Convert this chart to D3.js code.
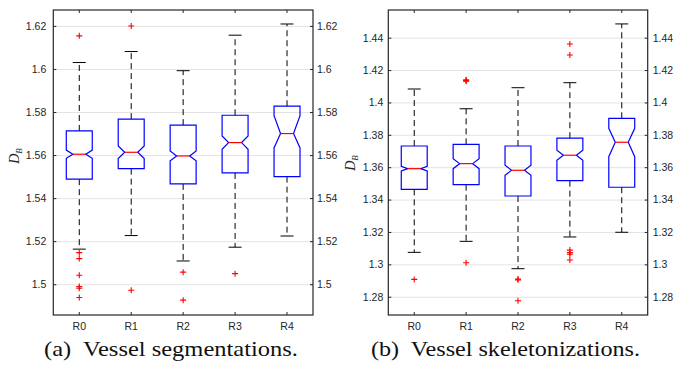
<!DOCTYPE html>
<meta charset="utf-8">
<html>
<head>
    <title>Vessel boxplots</title>
    <style>
        body { margin: 0; background: #fff; }
        .tick text { font-family: "Liberation Sans", Arial, sans-serif; font-size: 10.5px; fill: #262626; }
        .caption { font-family: "Liberation Serif", "Times New Roman", serif; font-size: 22px; fill: #111; white-space: pre; }
        .ylab { font-family: "Liberation Serif", serif; font-style: italic; fill: #262626; }
    </style>
    <script src="https://d3js.org/d3.v7.min.js"></script>
</head>
<body>
    <div id="chart"></div>
    <script>
        // categories shared by both panels
        var categories = ["R0", "R1", "R2", "R3", "R4"];

        // (a) vessel segmentations
        var segTicks = [1.5, 1.52, 1.54, 1.56, 1.58, 1.6, 1.62];
        var segQ1 = [1.5488, 1.5537, 1.5466, 1.5517, 1.5500];
        var segMedian = [1.5604, 1.5613, 1.5596, 1.5658, 1.5700];
        var segQ3 = [1.5712, 1.5767, 1.5739, 1.5785, 1.5827];
        var segNotchLo = [1.5585, 1.5584, 1.5573, 1.5627, 1.5633];
        var segNotchHi = [1.5623, 1.5642, 1.5619, 1.5689, 1.5783];
        var segWhiskerLo = [1.5163, 1.5226, 1.5108, 1.5172, 1.5224];
        var segWhiskerHi = [1.6030, 1.6081, 1.5992, 1.6157, 1.6209];
        var segOutliers = [
            [1.6154, 1.5147, 1.5119, 1.5042, 1.4989, 1.4981, 1.4938],
            [1.6200, 1.4972],
            [1.5056, 1.4926],
            [1.5049],
            []
        ];

        // (b) vessel skeletonizations
        var skelTicks = [1.28, 1.3, 1.32, 1.34, 1.36, 1.38, 1.4, 1.42, 1.44];
        var skelQ1 = [1.3463, 1.3492, 1.3422, 1.3517, 1.3476];
        var skelMedian = [1.3591, 1.3622, 1.3581, 1.3674, 1.3754];
        var skelQ3 = [1.3731, 1.3741, 1.3731, 1.3779, 1.3902];
        var skelNotchLo = [1.3577, 1.3591, 1.3550, 1.3643, 1.3665];
        var skelNotchHi = [1.3605, 1.3653, 1.3612, 1.3705, 1.3840];
        var skelWhiskerLo = [1.3074, 1.3142, 1.2973, 1.3169, 1.3198];
        var skelWhiskerHi = [1.4083, 1.3961, 1.4091, 1.4122, 1.4485];
        var skelOutliers = [
            [1.2907],
            [1.4140, 1.4135, 1.4131, 1.3010],
            [1.2909, 1.2904, 1.2775],
            [1.4361, 1.4293, 1.3088, 1.3072, 1.3062, 1.3027],
            []
        ];

        var svg = d3.select("#chart").append("svg")
            .attr("width", 691)
            .attr("height", 365);

        function drawPanel(p) {
            var x = d3.scaleBand().domain(categories).range([p.left, p.right]).padding(0);
            var y = d3.scaleLinear().domain(p.domain).range([p.bottom, p.top]);
            var cx = function (c) { return x(c) + x.bandwidth() / 2; };
            var bw = x.bandwidth() * 0.5;
            var g = svg.append("g");

            // grid
            g.append("g")
                .attr("transform", "translate(" + p.left + ",0)")
                .call(d3.axisLeft(y).tickValues(p.ticks).tickSize(-(p.right - p.left)).tickFormat(""))
                .call(function (s) {
                    s.select(".domain").remove();
                    s.selectAll("line").attr("stroke", "#e3e3e3").attr("stroke-width", 1);
                });

            var boxes = categories.map(function (c, i) {
                return {
                    c: c, q1: p.q1[i], med: p.med[i], q3: p.q3[i],
                    nlo: p.nlo[i], nhi: p.nhi[i], wlo: p.wlo[i], whi: p.whi[i], out: p.out[i]
                };
            });

            var b = g.selectAll(".box").data(boxes).enter().append("g").attr("class", "box");

            // whiskers
            b.append("line")
                .attr("x1", function (d) { return cx(d.c); }).attr("x2", function (d) { return cx(d.c); })
                .attr("y1", function (d) { return y(d.q3); }).attr("y2", function (d) { return y(d.whi); })
                .attr("stroke", "#000").attr("stroke-dasharray", "6,4");
            b.append("line")
                .attr("x1", function (d) { return cx(d.c); }).attr("x2", function (d) { return cx(d.c); })
                .attr("y1", function (d) { return y(d.q1); }).attr("y2", function (d) { return y(d.wlo); })
                .attr("stroke", "#000").attr("stroke-dasharray", "6,4");
            // caps
            ["whi", "wlo"].forEach(function (k) {
                b.append("line")
                    .attr("x1", function (d) { return cx(d.c) - bw / 4; })
                    .attr("x2", function (d) { return cx(d.c) + bw / 4; })
                    .attr("y1", function (d) { return y(d[k]); })
                    .attr("y2", function (d) { return y(d[k]); })
                    .attr("stroke", "#000");
            });

            // notched box
            b.append("path")
                .attr("fill", "none").attr("stroke", "#0000ff").attr("stroke-width", 1.2)
                .attr("d", function (d) {
                    var c = cx(d.c), h = bw / 2, n = bw / 4;
                    return "M" + (c - h) + "," + y(d.q3) +
                        "L" + (c + h) + "," + y(d.q3) +
                        "L" + (c + h) + "," + y(d.nhi) +
                        "L" + (c + n) + "," + y(d.med) +
                        "L" + (c + h) + "," + y(d.nlo) +
                        "L" + (c + h) + "," + y(d.q1) +
                        "L" + (c - h) + "," + y(d.q1) +
                        "L" + (c - h) + "," + y(d.nlo) +
                        "L" + (c - n) + "," + y(d.med) +
                        "L" + (c - h) + "," + y(d.nhi) + "Z";
                });
            // median
            b.append("line")
                .attr("x1", function (d) { return cx(d.c) - bw / 4; })
                .attr("x2", function (d) { return cx(d.c) + bw / 4; })
                .attr("y1", function (d) { return y(d.med); })
                .attr("y2", function (d) { return y(d.med); })
                .attr("stroke", "#ff0000").attr("stroke-width", 1.2);

            // outliers
            b.selectAll(".out").data(function (d) { return d.out.map(function (v) { return { c: d.c, v: v }; }); })
                .enter().append("path")
                .attr("class", "out")
                .attr("d", function (d) {
                    var px = cx(d.c), py = y(d.v), r = 3;
                    return "M" + (px - r) + "," + py + "H" + (px + r) + "M" + px + "," + (py - r) + "V" + (py + r);
                })
                .attr("stroke", "#ff0000").attr("stroke-width", 1.1);

            // axes
            var fmt = function (d) { return String(+d.toFixed(2)); };
            var styleAxis = function (s) {
                s.select(".domain").remove();
                s.selectAll(".tick line").attr("stroke", "#262626");
            };
            g.append("g").attr("transform", "translate(" + p.left + ",0)")
                .call(d3.axisLeft(y).tickValues(p.ticks).tickFormat(fmt).tickSizeInner(-3).tickSizeOuter(0).tickPadding(p.padL))
                .call(styleAxis);
            g.append("g").attr("transform", "translate(" + p.right + ",0)")
                .call(d3.axisRight(y).tickValues(p.ticks).tickFormat(fmt).tickSizeInner(-3).tickSizeOuter(0).tickPadding(p.padR))
                .call(styleAxis);
            g.append("g").attr("transform", "translate(0," + p.bottom + ")")
                .call(d3.axisBottom(x).tickSizeInner(-3).tickSizeOuter(0).tickPadding(8))
                .call(styleAxis);
            g.append("g").attr("transform", "translate(0," + p.top + ")")
                .call(d3.axisTop(x).tickFormat("").tickSizeInner(-3).tickSizeOuter(0))
                .call(styleAxis);

            g.append("rect")
                .attr("x", p.left).attr("y", p.top)
                .attr("width", p.right - p.left).attr("height", p.bottom - p.top)
                .attr("fill", "none").attr("stroke", "#262626").attr("stroke-width", 1.2);

            // y label
            var yl = g.append("text").attr("class", "ylab")
                .attr("transform", "translate(" + p.labX + "," + p.labY + ") rotate(-90)")
                .attr("text-anchor", "middle");
            yl.append("tspan").attr("font-size", "14px").text("D");
            yl.append("tspan").attr("font-size", "9px").attr("dy", "3").text("B");

            // caption
            svg.append("text").attr("class", "caption")
                .attr("x", p.capX).attr("y", 356)
                .attr("textLength", p.capW).attr("lengthAdjust", "spacingAndGlyphs")
                .text(p.caption);
        }

        drawPanel({
            left: 53.3, right: 313, top: 10, bottom: 315,
            domain: [1.4857, 1.6274], ticks: segTicks,
            q1: segQ1, med: segMedian, q3: segQ3, nlo: segNotchLo, nhi: segNotchHi,
            wlo: segWhiskerLo, whi: segWhiskerHi, out: segOutliers,
            padL: 7, padR: 4, labX: 19, labY: 156,
            capX: 44, capW: 254, caption: "(a)  Vessel segmentations."
        });

        drawPanel({
            left: 388.3, right: 647.7, top: 10, bottom: 315,
            domain: [1.2687, 1.4571], ticks: skelTicks,
            q1: skelQ1, med: skelMedian, q3: skelQ3, nlo: skelNotchLo, nhi: skelNotchHi,
            wlo: skelWhiskerLo, whi: skelWhiskerHi, out: skelOutliers,
            padL: 5, padR: 5, labX: 355, labY: 163,
            capX: 371, capW: 269, caption: "(b)  Vessel skeletonizations."
        });
    </script>
</body>
</html>
